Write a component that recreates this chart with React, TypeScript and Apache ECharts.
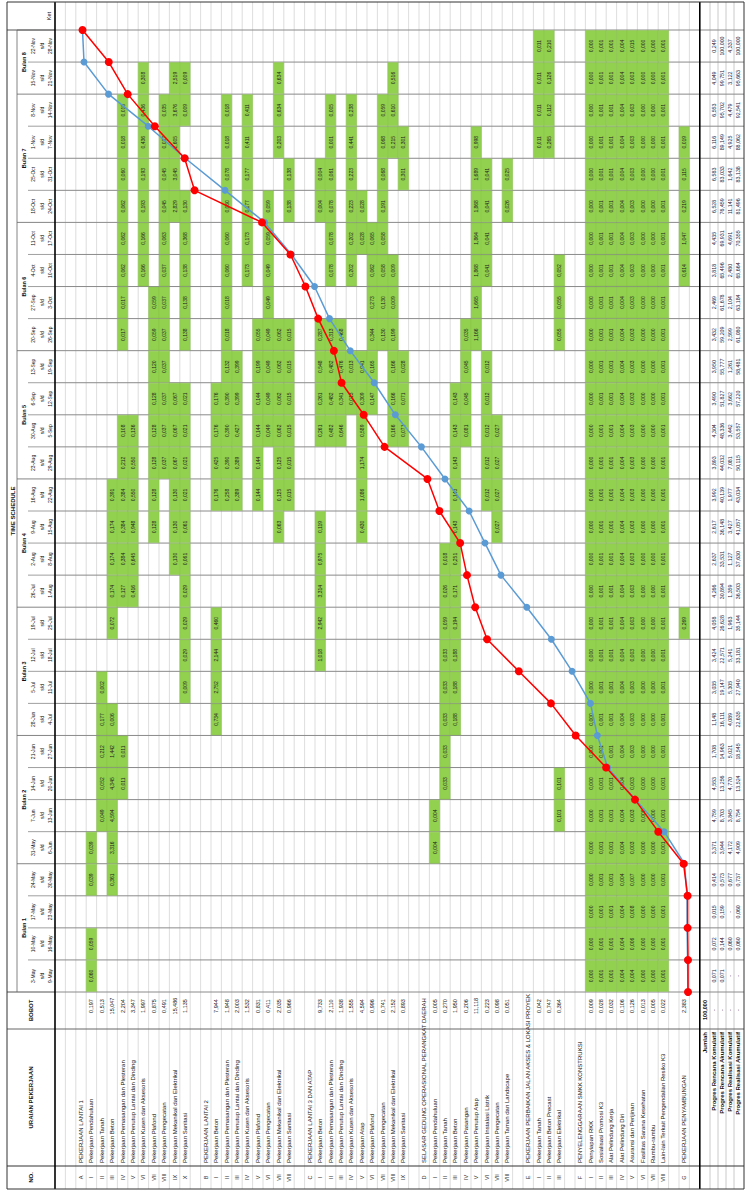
import React, { useEffect, useRef } from 'react';
import * as echarts from 'echarts';

// ---------------- data ----------------
const weekStart = ['3-May','10-May','17-May','24-May','31-May','7-Jun','14-Jun','21-Jun','28-Jun','5-Jul','12-Jul','19-Jul','26-Jul','2-Aug','9-Aug','16-Aug','23-Aug','30-Aug','6-Sep','13-Sep','20-Sep','27-Sep','4-Oct','11-Oct','18-Oct','25-Oct','1-Nov','8-Nov','15-Nov','22-Nov'];
const weekEnd = ['9-May','16-May','23-May','30-May','6-Jun','13-Jun','20-Jun','27-Jun','4-Jul','11-Jul','18-Jul','25-Jul','1-Aug','8-Aug','15-Aug','22-Aug','29-Aug','5-Sep','12-Sep','19-Sep','26-Sep','3-Oct','10-Oct','17-Oct','24-Oct','31-Oct','7-Nov','14-Nov','21-Nov','28-Nov'];
const monthNames = ['Bulan 1','Bulan 2','Bulan 3','Bulan 4','Bulan 5','Bulan 6','Bulan 7','Bulan 8'];
const monthWeeks = [4, 4, 4, 4, 4, 4, 4, 2];

type Item = [string, string, string]; // no, name, bobot
const sectionA: Item[] = [
  ['I','Pekerjaan Pendahuluan','0,197'],['II','Pekerjaan Tanah','0,513'],['III','Pekerjaan Beton','15,047'],
  ['IV','Pekerjaan Pemasangan dan Plesteran','2,204'],['V','Pekerjaan Penutup Lantai dan Dinding','3,347'],
  ['VI','Pekerjaan Kusen dan Aksesoris','1,997'],['VII','Pekerjaan Plafond','0,875'],['VIII','Pekerjaan Pengecatan','0,491'],
  ['IX','Pekerjaan Mekanikal dan Elektrikal','15,486'],['X','Pekerjaan Sanitasi','1,135']];
const sectionB: Item[] = [
  ['I','Pekerjaan Beton','7,944'],['II','Pekerjaan Pemasangan dan Plesteran','1,948'],['III','Pekerjaan Penutup Lantai dan Dinding','2,003'],
  ['IV','Pekerjaan Kusen dan Aksesoris','1,532'],['V','Pekerjaan Plafond','0,831'],['VI','Pekerjaan Pengecatan','0,411'],
  ['VII','Pekerjaan Mekanikal dan Elektrikal','2,035'],['VIII','Pekerjaan Sanitasi','0,966']];
const sectionC: Item[] = [
  ['I','Pekerjaan Beton','9,733'],['II','Pekerjaan Pemasangan dan Plesteran','2,110'],['III','Pekerjaan Penutup Lantai dan Dinding','1,938'],
  ['IV','Pekerjaan Kusen dan Aksesoris','1,555'],['V','Pekerjaan Atap','4,594'],['VI','Pekerjaan Plafond','0,996'],
  ['VII','Pekerjaan Pengecatan','0,741'],['VIII','Pekerjaan Mekanikal dan Elektrikal','2,152'],['IX','Pekerjaan Sanitasi','0,893']];
const sectionD: Item[] = [
  ['I','Pekerjaan Pendahuluan','0,005'],['II','Pekerjaan Tanah','0,270'],['III','Pekerjaan Beton','1,950'],
  ['IV','Pekerjaan Pasangan','0,206'],['V','Pekerjaan Penutup Atap','11,118'],['VI','Pekerjaan Instalasi Listrik','0,223'],
  ['VII','Pekerjaan Pengecatan','0,098'],['VIII','Pekerjaan Taman dan Landscape','0,051']];
const sectionE: Item[] = [
  ['I','Pekerjaan Tanah','0,042'],['II','Pekerjaan Beton Precast','0,747'],['III','Pekerjaan Elektrikal','0,364']];
const sectionF: Item[] = [
  ['I','Penyiapan RKK','0,009'],['II','Sosialisasi Promosi K3','0,028'],['III','Alat Pelindung Kerja','0,032'],
  ['IV','Alat Pelindung Diri','0,106'],['V','Asuransi dan Perijinan','0,126'],['VI','Fasilitas Sarana Kesehatan','0,013'],
  ['VII','Rambu-rambu','0,005'],['VIII','Lain-lain Terkait Pengendalian Resiko K3','0,022']];
const sections: [string, string, Item[], string][] = [
  ['A','PEKERJAAN LANTAI 1', sectionA, ''],
  ['B','PEKERJAAN LANTAI 2', sectionB, ''],
  ['C','PEKERJAAN LANTAI 3 DAN ATAP', sectionC, ''],
  ['D','SELASAR GEDUNG OPERASIONAL PERANGKAT DAERAH', sectionD, ''],
  ['E','PEKERJAAN PERBAIKAN JALAN AKSES & LOKASI PROYEK', sectionE, ''],
  ['F','PENYELENGGARAAN SMKK KONSTRUKSI', sectionF, ''],
  ['G','PEKERJAAN PENYAMBUNGAN', [], '2,383'],
];

type Cell = [string, number, number]; // item key, week (1-based), value
const cellsLantai1: Cell[] = [
  ['A.I',1,0.060],['A.I',2,0.059],['A.I',4,0.039],['A.I',5,0.039],
  ['A.II',6,0.049],['A.II',7,0.052],['A.II',8,0.212],['A.II',9,0.177],['A.II',10,0.002],
  ['A.III',4,0.361],['A.III',5,3.316],['A.III',6,4.594],['A.III',7,4.345],['A.III',8,1.442],['A.III',9,0.006],
  ['A.III',12,0.072],['A.III',13,0.174],['A.III',14,0.174],['A.III',15,0.174],['A.III',16,0.391],
  ['A.IV',7,0.011],['A.IV',8,0.011],['A.IV',13,0.127],['A.IV',14,0.384],['A.IV',15,0.384],['A.IV',16,0.384],
  ['A.IV',17,0.212],['A.IV',18,0.108],['A.IV',21,0.017],['A.IV',22,0.017],['A.IV',23,0.062],['A.IV',24,0.062],
  ['A.IV',25,0.062],['A.IV',26,0.060],['A.IV',27,0.018],['A.IV',28,0.018],
  ['A.V',13,0.416],['A.V',14,0.645],['A.V',15,0.948],['A.V',16,0.550],['A.V',17,0.550],['A.V',18,0.136],
  ['A.VI',23,0.166],['A.VI',24,0.166],['A.VI',25,0.193],['A.VI',26,0.193],['A.VI',27,0.436],['A.VI',28,0.436],['A.VI',29,0.308],
  ['A.VII',15,0.128],['A.VII',16,0.128],['A.VII',17,0.128],['A.VII',18,0.128],['A.VII',19,0.128],['A.VII',20,0.120],
  ['A.VII',21,0.059],['A.VII',22,0.059],
  ['A.VIII',17,0.037],['A.VIII',18,0.037],['A.VIII',19,0.037],['A.VIII',20,0.037],['A.VIII',21,0.037],['A.VIII',22,0.037],
  ['A.VIII',23,0.037],['A.VIII',24,0.063],['A.VIII',25,0.045],['A.VIII',26,0.045],['A.VIII',27,0.037],['A.VIII',28,0.035],
  ['A.IX',14,0.130],['A.IX',15,0.130],['A.IX',16,0.130],['A.IX',17,0.067],['A.IX',18,0.067],['A.IX',19,0.067],
  ['A.IX',25,2.829],['A.IX',26,3.045],['A.IX',27,2.605],['A.IX',28,3.676],['A.IX',29,2.519],
  ['A.X',10,0.009],['A.X',11,0.029],['A.X',12,0.029],['A.X',13,0.029],['A.X',14,0.061],['A.X',15,0.061],
  ['A.X',16,0.021],['A.X',17,0.021],['A.X',18,0.021],['A.X',19,0.021],['A.X',21,0.138],['A.X',22,0.138],
  ['A.X',23,0.138],['A.X',24,0.368],['A.X',25,0.130],['A.X',28,0.009],['A.X',29,0.009],
];
const cellsLantai2: Cell[] = [
  ['B.I',9,0.734],['B.I',10,2.752],['B.I',11,2.144],['B.I',12,0.460],['B.I',16,0.176],['B.I',17,0.425],['B.I',18,0.176],['B.I',19,0.176],
  ['B.II',16,0.258],['B.II',17,0.390],['B.II',18,0.390],['B.II',19,0.390],['B.II',20,0.132],['B.II',21,0.018],['B.II',22,0.018],
  ['B.II',23,0.060],['B.II',24,0.060],['B.II',25,0.060],['B.II',26,0.078],['B.II',27,0.018],['B.II',28,0.018],
  ['B.III',16,0.389],['B.III',17,0.389],['B.III',18,0.427],['B.III',19,0.399],['B.III',20,0.399],
  ['B.IV',23,0.173],['B.IV',24,0.173],['B.IV',25,0.177],['B.IV',26,0.177],['B.IV',27,0.411],['B.IV',28,0.411],
  ['B.V',16,0.144],['B.V',17,0.144],['B.V',18,0.144],['B.V',19,0.144],['B.V',20,0.199],['B.V',21,0.055],
  ['B.VI',18,0.049],['B.VI',19,0.049],['B.VI',20,0.049],['B.VI',21,0.049],['B.VI',22,0.049],['B.VI',23,0.049],['B.VI',24,0.059],['B.VI',25,0.059],
  ['B.VII',15,0.063],['B.VII',16,0.125],['B.VII',17,0.125],['B.VII',18,0.062],['B.VII',19,0.062],['B.VII',20,0.062],['B.VII',21,0.062],
  ['B.VII',27,0.203],['B.VII',28,0.634],['B.VII',29,0.634],
  ['B.VIII',16,0.015],['B.VIII',17,0.015],['B.VIII',18,0.015],['B.VIII',19,0.015],['B.VIII',20,0.015],['B.VIII',21,0.015],
  ['B.VIII',25,0.138],['B.VIII',26,0.138],
];
const cellsLantai3: Cell[] = [
  ['C.I',11,1.018],['C.I',12,2.942],['C.I',13,3.314],['C.I',14,0.975],['C.I',15,0.119],['C.I',18,0.261],['C.I',19,0.261],
  ['C.I',20,0.548],['C.I',21,0.287],['C.I',25,0.004],['C.I',26,0.004],
  ['C.II',18,0.482],['C.II',19,0.482],['C.II',20,0.482],['C.II',21,0.313],['C.II',23,0.078],['C.II',24,0.078],['C.II',25,0.078],
  ['C.II',26,0.061],['C.II',27,0.001],['C.II',28,0.005],
  ['C.III',18,0.646],['C.III',19,0.341],['C.III',20,0.476],['C.III',21,0.468],
  ['C.IV',19,0.013],['C.IV',20,0.013],['C.IV',23,0.202],['C.IV',24,0.202],['C.IV',25,0.223],['C.IV',26,0.223],['C.IV',27,0.441],['C.IV',28,0.238],
  ['C.V',15,0.430],['C.V',16,1.086],['C.V',17,1.174],['C.V',18,0.589],['C.V',19,0.309],['C.V',20,0.941],['C.V',24,0.028],['C.V',25,0.028],
  ['C.VI',19,0.147],['C.VI',20,0.165],['C.VI',21,0.344],['C.VI',22,0.273],['C.VI',23,0.062],['C.VI',24,0.065],
  ['C.VII',21,0.130],['C.VII',22,0.130],['C.VII',23,0.058],['C.VII',24,0.058],['C.VII',25,0.191],['C.VII',26,0.068],['C.VII',27,0.068],['C.VII',28,0.059],
  ['C.VIII',18,0.166],['C.VIII',19,0.166],['C.VIII',20,0.166],['C.VIII',21,0.199],['C.VIII',22,0.009],['C.VIII',23,0.009],
  ['C.VIII',27,0.215],['C.VIII',28,0.610],['C.VIII',29,0.516],
  ['C.IX',18,0.071],['C.IX',19,0.071],['C.IX',20,0.028],['C.IX',26,0.301],['C.IX',27,0.301],
];
const cellsSelasar: Cell[] = [
  ['D.I',5,0.004],['D.I',6,0.004],
  ['D.II',7,0.033],['D.II',8,0.033],['D.II',9,0.033],['D.II',10,0.033],['D.II',11,0.033],['D.II',12,0.059],['D.II',13,0.026],['D.II',14,0.018],
  ['D.III',9,0.188],['D.III',10,0.188],['D.III',11,0.188],['D.III',12,0.194],['D.III',13,0.171],['D.III',14,0.251],
  ['D.III',15,0.143],['D.III',16,0.143],['D.III',17,0.143],['D.III',18,0.143],['D.III',19,0.143],
  ['D.IV',18,0.081],['D.IV',19,0.045],['D.IV',20,0.045],['D.IV',21,0.035],
  ['D.V',21,1.166],['D.V',22,1.665],['D.V',23,1.868],['D.V',24,1.864],['D.V',25,1.868],['D.V',26,1.689],['D.V',27,0.998],
  ['D.VI',16,0.012],['D.VI',17,0.012],['D.VI',18,0.012],['D.VI',19,0.012],['D.VI',20,0.012],
  ['D.VI',23,0.041],['D.VI',24,0.041],['D.VI',25,0.041],['D.VI',26,0.041],
  ['D.VII',15,0.027],['D.VII',16,0.027],['D.VII',17,0.027],['D.VII',18,0.027],
  ['D.VIII',25,0.026],['D.VIII',26,0.025],
];
const cellsJalan: Cell[] = [
  ['E.I',27,0.011],['E.I',28,0.011],['E.I',29,0.011],['E.I',30,0.011],
  ['E.II',27,0.265],['E.II',28,0.112],['E.II',29,0.126],['E.II',30,0.210],
  ['E.III',6,0.101],['E.III',7,0.101],['E.III',21,0.055],['E.III',22,0.055],['E.III',23,0.052],
];
// SMKK rows: same value every week
const smkkWeekly: [string, number][] = [
  ['F.I',0.000],['F.II',0.001],['F.III',0.001],['F.IV',0.004],['F.V',0.003],['F.VI',0.000],['F.VII',0.000],['F.VIII',0.001]];
const smkkOverrides: Cell[] = [['F.V',1,0.004],['F.V',2,0.006],['F.V',3,0.008],['F.V',4,0.007],['F.V',30,0.015]];
const cellsPenyambungan: Cell[] = [
  ['G',12,0.269],['G',23,0.614],['G',24,1.047],['G',25,0.219],['G',26,0.115],['G',27,0.019],
];

const rencanaKom = [0.071,0.072,0.015,0.414,3.371,4.759,4.553,1.708,1.148,3.035,3.424,4.058,4.266,2.637,2.617,3.992,3.893,4.304,3.490,3.950,3.432,2.469,3.818,4.435,6.528,6.583,6.116,6.553,4.049,0.249];
const rencanaAkum = [0.071,0.144,0.159,0.573,3.944,8.703,13.256,14.963,16.111,19.147,22.571,26.628,30.894,33.531,36.148,40.139,44.032,48.336,51.827,55.777,59.209,61.678,65.496,69.931,76.459,83.033,89.149,95.702,99.751,100.000];
const realisasiKom = [0,0.060,0,0.677,4.172,3.845,4.770,5.021,4.089,5.305,5.241,1.963,1.359,1.127,3.427,1.977,7.081,3.442,3.662,1.261,2.599,2.104,2.480,4.691,11.141,1.642,4.925,4.479,3.122,4.337];
const realisasiAkum = [0,0.060,0.060,0.737,4.909,8.754,13.524,18.545,22.635,27.940,33.181,35.144,36.503,37.630,41.057,43.034,50.115,53.557,57.220,58.481,61.080,63.184,65.664,70.355,81.496,83.138,88.062,92.541,95.663,100.000];
const summaryLabels = ['Progres Rencana Komulatif','Progres Rencana Akumulatif','Progres Realisasi Komulatif','Progres Realisasi Akumulatif'];

// ---------------- layout ----------------
const W = 748, H = 1191;
const X_L = 7, X_TS = 17, X_BL = 28, X_D = 55, ROW_H = 10.4, N_ROWS = 62;
const X_S = X_D + ROW_H * N_ROWS;
const SUM_X = [X_S, 710, 718, 726, 734, 742];
const X_R = 744;
const Y_T = 2, Y_W0 = 30, Y_W1 = 992, Y_U = 1029, Y_N = 1166, Y_B = 1189;
const N_W = 30;
const WEEK_H = (Y_W1 - Y_W0) / N_W;
const FONT = 'Liberation Sans, Arial, sans-serif';
const R90 = Math.PI / 2;

const fmt = (v: number) => v.toFixed(3).replace('.', ',');
const fmtDash = (v: number) => (v === 0 ? '-' : fmt(v));

function buildRows() {
  const rows: { key: string; no: string; name: string; bobot: string; head: boolean }[] = [];
  rows.push({ key: 'blank0', no: '', name: '', bobot: '', head: false });
  rows.push({ key: 'blank1', no: '', name: '', bobot: '', head: false });
  sections.forEach(([code, title, items, bobot]) => {
    rows.push({ key: code, no: code, name: title, bobot, head: true });
    items.forEach(([no, name, b]) => rows.push({ key: code + '.' + no, no, name, bobot: b, head: false }));
    rows.push({ key: 'blank' + code, no: '', name: '', bobot: '', head: false });
  });
  return rows;
}

function txt(x: number, y: number, text: string, o: any = {}) {
  return {
    type: 'text', x, y, rotation: R90, silent: true, z: o.z ?? 20,
    style: {
      text, fontSize: o.size ?? 6, fontFamily: FONT, fontWeight: o.bold ? 'bold' : 'normal',
      fill: o.fill ?? '#111', align: o.align ?? 'center', verticalAlign: 'middle',
    },
  };
}
function ln(x1: number, y1: number, x2: number, y2: number, stroke: string, lw = 1, z = 1) {
  return { type: 'line', silent: true, z, shape: { x1, y1, x2, y2 }, style: { stroke, lineWidth: lw } };
}

export default function App() {
  const ref = useRef<HTMLDivElement>(null);
  useEffect(() => {
    if (!ref.current) return;
    const chart = echarts.init(ref.current, undefined, { renderer: 'svg' });
    const rows = buildRows();
    const rowIndex: Record<string, number> = {};
    rows.forEach((r, i) => (rowIndex[r.key] = i));

    const allCells: Cell[] = [...cellsLantai1, ...cellsLantai2, ...cellsLantai3, ...cellsSelasar, ...cellsJalan, ...cellsPenyambungan];
    smkkWeekly.forEach(([k, v]) => {
      for (let w = 1; w <= N_W; w++) {
        const ov = smkkOverrides.find((c) => c[0] === k && c[1] === w);
        allCells.push([k, w, ov ? ov[2] : v]);
      }
    });
    const cellData = allCells.map(([k, w, v]) => [rowIndex[k], w - 1, v]);

    const g: any[] = [];
    const weekY = (i: number) => Y_W1 - i * WEEK_H;
    const weekC = (w: number) => Y_W1 - (w + 0.5) * WEEK_H;
    const rowC = (i: number) => X_D + (i + 0.5) * ROW_H;

    for (let k = 1; k < N_ROWS; k++) g.push(ln(X_D + k * ROW_H, Y_T, X_D + k * ROW_H, Y_B, '#d4d4d4', 0.8));
    for (let k = 1; k < SUM_X.length - 1; k++) g.push(ln(SUM_X[k], Y_T, SUM_X[k], Y_B, '#bdbdbd', 0.8));
    for (let i = 0; i <= N_W; i++) g.push(ln(X_D, weekY(i), X_R, weekY(i), '#8a8a8a', 1, 2));
    g.push(ln(X_L, Y_W0, X_D, Y_W0, '#555', 1, 2));
    g.push(ln(X_L, Y_W1, X_D, Y_W1, '#555', 1, 2));
    g.push(ln(X_TS, Y_W0, X_TS, Y_W1, '#666', 0.8, 2));
    let acc = 0;
    monthWeeks.forEach((n, m) => {
      const y0 = weekY(acc), y1 = weekY(acc + n);
      g.push(ln(X_TS, y1, X_D, y1, '#666', 0.8, 2));
      g.push(txt((X_TS + X_BL) / 2 + 1, (y0 + y1) / 2, monthNames[m], { bold: true, size: 5.5 }));
      for (let j = 1; j < n; j++) g.push(ln(X_BL, weekY(acc + j), X_D, weekY(acc + j), '#888', 0.8, 2));
      acc += n;
    });
    g.push(txt((X_L + X_TS) / 2 + 0.5, (Y_W0 + Y_W1) / 2, 'TIME SCHEDULE', { bold: true, size: 6 }));
    for (let w = 0; w < N_W; w++) {
      const yc = weekC(w);
      g.push(txt(33, yc, weekStart[w], { size: 5 }));
      g.push(txt(41.5, yc, 's/d', { size: 5 }));
      g.push(txt(50, yc, weekEnd[w], { size: 5 }));
    }
    g.push(txt(31, (Y_W1 + Y_U) / 2, 'BOBOT', { bold: true, size: 6 }));
    g.push(txt(31, (Y_U + Y_N) / 2, 'URAIAN PEKERJAAN', { bold: true, size: 6 }));
    g.push(txt(31, (Y_N + Y_B) / 2, 'NO.', { bold: true, size: 6 }));
    g.push(txt(49, (Y_T + Y_W0) / 2, 'Ket', { size: 5.5 }));
    g.push(ln(X_L, Y_U, X_R, Y_U, '#666', 1, 2));
    g.push(ln(X_L, Y_N, X_R, Y_N, '#333', 1.2, 2));
    g.push(ln(X_D, Y_T, X_D, Y_B, '#000', 1.6, 3));
    g.push(ln(X_S, Y_T, X_S, Y_B, '#000', 1.6, 3));
    g.push({ type: 'rect', silent: true, z: 3, shape: { x: X_L, y: Y_T, width: X_R - X_L, height: Y_B - Y_T }, style: { fill: 'none', stroke: '#333', lineWidth: 1 } });

    rows.forEach((r, i) => {
      if (!r.no) return;
      const x = rowC(i);
      g.push(txt(x, (Y_N + Y_B) / 2, r.no, { size: 5.5, fill: '#333' }));
      g.push(txt(x, Y_N - 3, r.name, { size: 6, align: 'left' }));
      if (r.bobot) g.push(txt(x, 1006, r.bobot, { size: 5.5 }));
    });

    const sumC = (k: number) => (SUM_X[k] + SUM_X[k + 1]) / 2;
    g.push(txt(sumC(0), Y_U + 3, 'Jumlah', { bold: true, size: 6, align: 'right' }));
    g.push(txt(sumC(0), 1010, '100,000', { bold: true, size: 5.5 }));
    const sumArrays = [rencanaKom, rencanaAkum, realisasiKom, realisasiAkum];
    summaryLabels.forEach((lab, k) => {
      g.push(txt(sumC(k + 1), Y_U + 3, lab, { bold: true, size: 6, align: 'right' }));
      g.push(txt(sumC(k + 1), 1010, '-', { size: 5.5 }));
      sumArrays[k].forEach((v, w) => g.push(txt(sumC(k + 1), weekC(w), fmtDash(v), { size: 5.3, fill: '#1c1c3a' })));
    });

    const rowKeys = rows.map((r) => r.key);
    const blueData = [[0, 0], ...rencanaAkum.map((v, i) => [v, i + 1])];
    const redData = [[0, 0], ...realisasiAkum.map((v, i) => [v, i + 1])];

    chart.setOption({
      animation: false,
      backgroundColor: '#ffffff',
      grid: [
        { left: 82.5, top: Y_W0, width: 605.5, height: Y_W1 - Y_W0, containLabel: false },
        { left: X_D, top: Y_W0, width: ROW_H * N_ROWS, height: Y_W1 - Y_W0, containLabel: false },
      ],
      xAxis: [
        { gridIndex: 0, type: 'value', min: 0, max: 100, inverse: true, show: false },
        { gridIndex: 1, type: 'category', data: rowKeys, show: false },
      ],
      yAxis: [
        { gridIndex: 0, type: 'value', min: 0, max: N_W, show: false },
        { gridIndex: 1, type: 'category', data: weekStart, show: false },
      ],
      series: [
        {
          type: 'custom', xAxisIndex: 1, yAxisIndex: 1, z: 5, silent: true,
          data: cellData,
          renderItem: (params: any, api: any) => {
            const c = api.coord([api.value(0), api.value(1)]);
            const s = api.size([1, 1]);
            return {
              type: 'group',
              children: [
                { type: 'rect', shape: { x: c[0] - s[0] / 2, y: c[1] - s[1] / 2 + 0.5, width: s[0], height: s[1] - 1 },
                  style: { fill: '#92d050', stroke: '#84c043', lineWidth: 0.4 } },
                { type: 'text', x: c[0], y: c[1], rotation: R90,
                  style: { text: fmt(api.value(2)), fontSize: 5, fontFamily: FONT, fill: '#1a1a1a', align: 'center', verticalAlign: 'middle' } },
              ],
            };
          },
        },
        {
          type: 'line', xAxisIndex: 0, yAxisIndex: 0, data: blueData, z: 10,
          symbol: 'circle', symbolSize: 7, color: '#5b9bd5',
          lineStyle: { color: '#5b9bd5', width: 1.5 }, itemStyle: { color: '#5b9bd5' },
        },
        {
          type: 'line', xAxisIndex: 0, yAxisIndex: 0, data: redData, z: 11,
          symbol: 'circle', symbolSize: 8, color: '#ff0000',
          lineStyle: { color: '#ff0000', width: 1.5 }, itemStyle: { color: '#ff0000' },
        },
      ],
      graphic: { elements: g },
    });
    return () => chart.dispose();
  }, []);
  return <div ref={ref} style={{ position: 'absolute', left: 0, top: 0, width: W, height: H, background: '#fff' }} />;
}
